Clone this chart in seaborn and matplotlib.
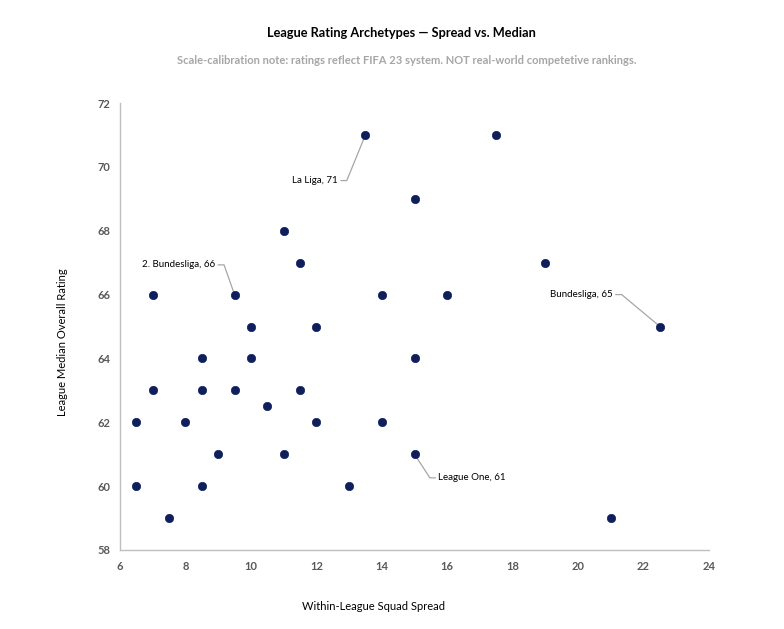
import matplotlib
matplotlib.use("Agg")
import matplotlib.pyplot as plt
import seaborn as sns
import pandas as pd

spread = [13.5, 17.5, 15, 11, 11.5, 19, 7, 9.5, 14, 16, 10, 12, 22.5, 8.5, 10, 15,
          7, 8.5, 9.5, 11.5, 10.5, 6.5, 8, 12, 14, 9, 11, 15, 6.5, 8.5, 13, 7.5, 21]
median = [71, 71, 69, 68, 67, 67, 66, 66, 66, 66, 65, 65, 65, 64, 64, 64,
          63, 63, 63, 63, 62.5, 62, 62, 62, 62, 61, 61, 61, 60, 60, 60, 59, 59]
labels = ["La Liga", "", "", "", "", "", "", "2. Bundesliga", "", "", "", "", "Bundesliga",
          "", "", "", "", "", "", "", "", "", "", "", "", "", "", "League One",
          "", "", "", "", ""]

df = pd.DataFrame({"spread": spread, "median": median, "label": labels})

sns.set_theme(style="white")
plt.rcParams["font.family"] = ["Lato", "DejaVu Sans"]

fig = plt.figure(figsize=(7.84, 6.29), dpi=100)
ax = fig.add_axes([120/784, 1-550/629, (709-120)/784, (550-103)/629])

sns.scatterplot(data=df, x="spread", y="median", ax=ax, color="#0f1f5c",
                s=36, edgecolor="#0f1f5c", linewidth=0.5, zorder=3)

ax.set_xlim(6, 24)
ax.set_ylim(58, 72)
ax.set_xticks(range(6, 25, 2))
ax.set_yticks(range(58, 73, 2))
for lab in ax.get_xticklabels() + ax.get_yticklabels():
    lab.set_fontweight("bold")
    lab.set_color("#595959")
    lab.set_fontsize(8)
ax.tick_params(axis="x", length=0, pad=8)
ax.tick_params(axis="y", length=0, pad=7)

for side in ["top", "right"]:
    ax.spines[side].set_visible(False)
for side in ["left", "bottom"]:
    ax.spines[side].set_color("#bfbfbf")
    ax.spines[side].set_linewidth(1.0)

ax.set_xlabel("")
ax.set_ylabel("")
fig.text(373/784, 1-607/629, "Within-League Squad Spread", ha="center", va="center",
         fontsize=8, color="#000000")
fig.text(63/784, 1-342/629, "League Median Overall Rating", ha="center", va="center",
         rotation=90, fontsize=8, color="#000000")

fig.text(401/784, 1-33/629, "League Rating Archetypes \u2014 Spread vs. Median", ha="center",
         va="center", fontsize=9.2, fontweight="bold", color="#000000")
fig.text(407/784, 1-60/629,
         "Scale-calibration note: ratings reflect FIFA 23 system. NOT real-world competetive rankings.",
         ha="center", va="center", fontsize=8, fontweight="bold", color="#a6a6a6")

# annotation offsets (in data units) for labelled points
offsets = {"La Liga": (-0.85, -1.43, "right"),
           "2. Bundesliga": (-0.6, 0.93, "right"),
           "Bundesliga": (-1.45, 1.0, "right"),
           "League One": (0.72, -0.74, "left")}
for _, r in df[df["label"] != ""].iterrows():
    dx, dy, ha = offsets[r["label"]]
    tx, ty = r["spread"] + dx, r["median"] + dy
    elbow = tx + (0.28 if ha == "right" else -0.25)
    ax.plot([r["spread"], elbow, tx + (0.1 if ha == "right" else -0.08)],
            [r["median"], ty, ty], color="#a6a6a6", linewidth=0.9, zorder=2)
    ax.text(tx, ty, f"{r['label']}, {int(r['median'])}", ha=ha, va="center",
            fontsize=7, color="#000000")

fig.savefig("out.png", dpi=100)
